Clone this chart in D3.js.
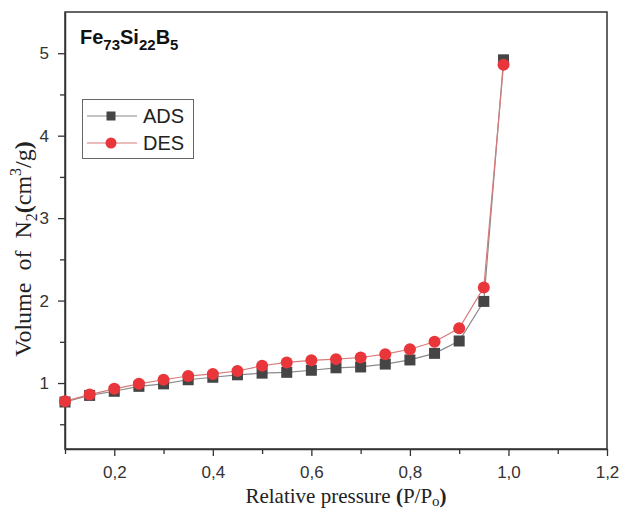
<!DOCTYPE html>
<html>
<head>
<meta charset="utf-8">
<script src="https://cdn.jsdelivr.net/npm/d3@7"></script>
<style>
  html, body { margin: 0; padding: 0; background: #fff; }
  svg { display: block; }
</style>
</head>
<body>
<svg id="chart" width="623" height="511"></svg>
<script>
// Relative pressure points (P/P0)
const pressure = [0.10, 0.15, 0.20, 0.25, 0.30, 0.35, 0.40, 0.45, 0.50, 0.55, 0.60, 0.65, 0.70, 0.75, 0.80, 0.85, 0.90, 0.95, 0.99];
// Adsorption branch, cm3/g
const adsValues = [0.77, 0.85, 0.90, 0.96, 0.99, 1.04, 1.07, 1.10, 1.12, 1.13, 1.155, 1.185, 1.195, 1.23, 1.28, 1.36, 1.51, 1.99, 4.92];
// Desorption branch, cm3/g
const desValues = [0.78, 0.86, 0.93, 0.99, 1.04, 1.085, 1.11, 1.146, 1.21, 1.25, 1.275, 1.29, 1.31, 1.35, 1.41, 1.50, 1.665, 2.16, 4.86];
const xTicks = [0.2, 0.4, 0.6, 0.8, 1.0, 1.2];
const xMinorTicks = [0.1, 0.3, 0.5, 0.7, 0.9, 1.1];
const yTicks = [1, 2, 3, 4, 5];
const yMinorTicks = [0.5, 1.5, 2.5, 3.5, 4.5];
const seriesNames = ["ADS", "DES"];

const svg = d3.select("#chart");
const plotL = 65, plotR = 607, plotT = 12, plotB = 449;

const x = d3.scaleLinear().domain([0.1, 1.2]).range([plotL, plotR]);
const y = d3.scaleLinear().domain([0.2, 5.5]).range([plotB, plotT]);

const axisColor = "#333";
const fmt = d => d3.format(".1f")(d).replace(".", ",");

// Frame
svg.append("rect")
  .attr("x", plotL).attr("y", plotT)
  .attr("width", plotR - plotL).attr("height", plotB - plotT)
  .attr("fill", "none").attr("stroke", axisColor).attr("stroke-width", 1.5);

// X axis
const xAxis = svg.append("g").attr("transform", `translate(0,${plotB})`)
  .call(d3.axisBottom(x).tickValues(xTicks).tickFormat(fmt).tickSize(7).tickSizeOuter(0));
svg.append("g").attr("transform", `translate(0,${plotB})`)
  .call(d3.axisBottom(x).tickValues(xMinorTicks).tickFormat("").tickSize(5).tickSizeOuter(0))
  .call(g => g.select(".domain").remove());

// Y axis
const yAxis = svg.append("g").attr("transform", `translate(${plotL},0)`)
  .call(d3.axisLeft(y).tickValues(yTicks).tickFormat(d3.format("d")).tickSize(7).tickSizeOuter(0));
svg.append("g").attr("transform", `translate(${plotL},0)`)
  .call(d3.axisLeft(y).tickValues(yMinorTicks).tickFormat("").tickSize(5).tickSizeOuter(0))
  .call(g => g.select(".domain").remove());

svg.selectAll(".domain").attr("stroke", axisColor).attr("stroke-width", 1.5);
svg.selectAll(".tick line").attr("stroke", axisColor).attr("stroke-width", 1.3);
svg.selectAll(".tick text")
  .attr("fill", "#333")
  .style("font-family", "'Liberation Sans', Arial, sans-serif")
  .style("font-size", "17px");
xAxis.selectAll(".tick text").attr("dy", "1.1em");
yAxis.selectAll(".tick text").attr("dx", "-0.35em");

// Axis titles
const xt = svg.append("text")
  .attr("x", 346).attr("y", 503)
  .attr("text-anchor", "middle")
  .style("font-family", "'Liberation Serif', 'Times New Roman', serif")
  .style("font-size", "21px").attr("fill", "#222");
xt.append("tspan").text("Relative pressure ");
xt.append("tspan").attr("font-weight", "bold").text("(");
xt.append("tspan").text("P/P");
xt.append("tspan").attr("dy", 3).style("font-size", "15px").text("o");
xt.append("tspan").attr("dy", -3).attr("font-weight", "bold").text(")");

const yt = svg.append("text")
  .attr("transform", `translate(31,249) rotate(-90)`)
  .attr("text-anchor", "middle")
  .style("font-family", "'Liberation Serif', 'Times New Roman', serif")
  .style("font-size", "24px").attr("fill", "#222");
yt.append("tspan").attr("xml:space", "preserve").text("Volume  of  N");
yt.append("tspan").attr("dy", 6).style("font-size", "16px").text("2");
yt.append("tspan").attr("dy", -6).attr("font-weight", "bold").text("(");
yt.append("tspan").text("cm");
yt.append("tspan").attr("dy", -10).style("font-size", "16px").text("3");
yt.append("tspan").attr("dy", 10).text("/g");
yt.append("tspan").attr("font-weight", "bold").text(")");

// Sample label
const title = svg.append("text")
  .attr("x", 80).attr("y", 44)
  .style("font-family", "'Liberation Sans', Arial, sans-serif")
  .style("font-size", "20px").attr("font-weight", "bold").attr("fill", "#111");
title.append("tspan").text("Fe");
title.append("tspan").attr("dy", 6).style("font-size", "15px").text("73");
title.append("tspan").attr("dy", -6).text("Si");
title.append("tspan").attr("dy", 6).style("font-size", "15px").text("22");
title.append("tspan").attr("dy", -6).text("B");
title.append("tspan").attr("dy", 6).style("font-size", "15px").text("5");

// Series
const adsData = pressure.map((p, i) => ({ p, v: adsValues[i] }));
const desData = pressure.map((p, i) => ({ p, v: desValues[i] }));
const line = d3.line().x(d => x(d.p)).y(d => y(d.v));

const adsColor = "#454545", adsLine = "#8a8a8a";
const desColor = "#e8363b", desLine = "#d87a7a";

svg.append("path").datum(adsData).attr("d", line)
  .attr("fill", "none").attr("stroke", adsLine).attr("stroke-width", 1.2);
const sq = 11;
svg.append("g").selectAll("rect").data(adsData).join("rect")
  .attr("x", d => x(d.p) - sq / 2).attr("y", d => y(d.v) - sq / 2)
  .attr("width", sq).attr("height", sq).attr("fill", adsColor);

svg.append("path").datum(desData).attr("d", line)
  .attr("fill", "none").attr("stroke", desLine).attr("stroke-width", 1.2);
svg.append("g").selectAll("circle").data(desData).join("circle")
  .attr("cx", d => x(d.p)).attr("cy", d => y(d.v)).attr("r", 6)
  .attr("fill", desColor);

// Legend
const legend = svg.append("g");
legend.append("rect").attr("x", 82.5).attr("y", 99.5).attr("width", 111).attr("height", 59)
  .attr("fill", "#fff").attr("stroke", "#666").attr("stroke-width", 1);
const rows = [
  { name: seriesNames[0], y: 116, line: adsLine, color: adsColor, shape: "square" },
  { name: seriesNames[1], y: 143, line: desLine, color: desColor, shape: "circle" }
];
rows.forEach(r => {
  legend.append("line").attr("x1", 87).attr("x2", 137).attr("y1", r.y).attr("y2", r.y)
    .attr("stroke", r.line).attr("stroke-width", 1.2);
  if (r.shape === "square") {
    legend.append("rect").attr("x", 111 - 4.5).attr("y", r.y - 4.5).attr("width", 9).attr("height", 9).attr("fill", r.color);
  } else {
    legend.append("circle").attr("cx", 111).attr("cy", r.y).attr("r", 5.5).attr("fill", r.color);
  }
  legend.append("text").attr("x", 143).attr("y", r.y + 7)
    .style("font-family", "'Liberation Sans', Arial, sans-serif")
    .style("font-size", "20px").attr("fill", "#222").text(r.name);
});
</script>
</body>
</html>
